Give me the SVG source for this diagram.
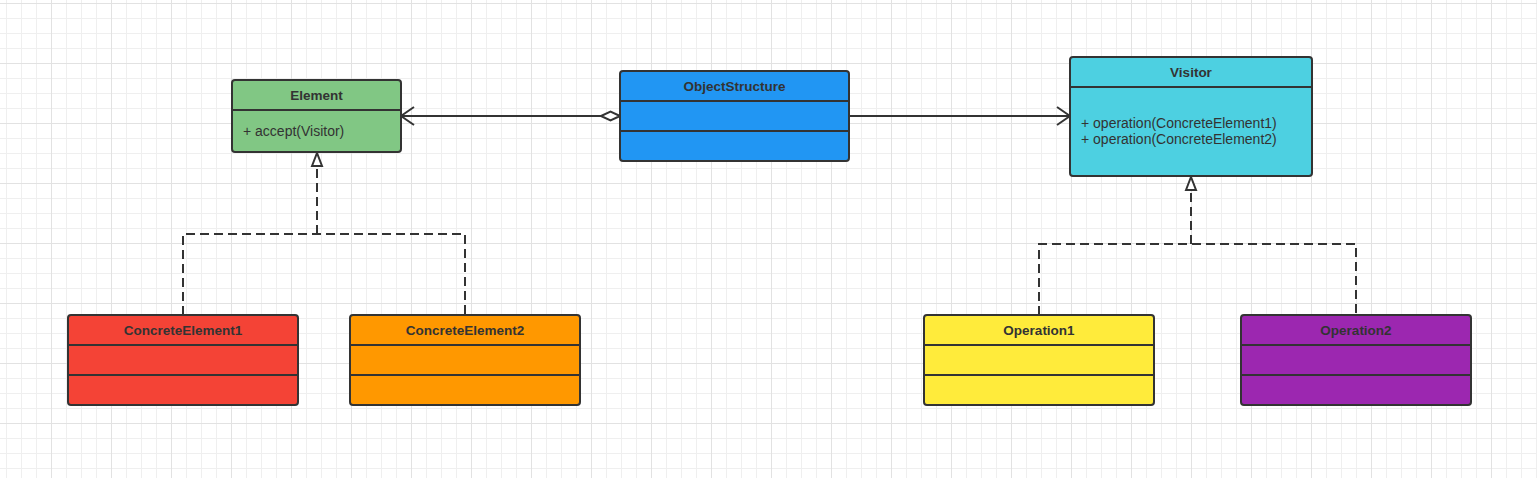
<svg xmlns="http://www.w3.org/2000/svg" width="1537" height="478" viewBox="0 0 1537 478">
<style>
.box{stroke:#333;stroke-width:2}
.div{stroke:#333;stroke-width:2}
.hd{font-family:"Liberation Sans",Arial,sans-serif;font-size:13.5px;font-weight:bold;fill:#333;text-anchor:middle}
.tx{font-family:"Liberation Sans",Arial,sans-serif;font-size:14px;fill:#333}
.ln{fill:none;stroke:#333;stroke-width:2}
.dash{fill:none;stroke:#333;stroke-width:2;stroke-dasharray:9,5}
</style>
<defs>
<pattern id="grid" x="51" y="3" width="60" height="60" patternUnits="userSpaceOnUse">
<rect x="0" y="0" width="60" height="60" fill="#fff"/>
<g fill="#efefef">
<rect x="15" y="0" width="1" height="60"/><rect x="30" y="0" width="1" height="60"/><rect x="45" y="0" width="1" height="60"/>
<rect x="0" y="15" width="60" height="1"/><rect x="0" y="30" width="60" height="1"/><rect x="0" y="45" width="60" height="1"/>
</g>
<g fill="#e2e2e2">
<rect x="0" y="0" width="1" height="60"/><rect x="0" y="0" width="60" height="1"/>
</g>
</pattern>
<marker id="open" markerUnits="userSpaceOnUse" viewBox="0 0 16 22" refX="15" refY="11" markerWidth="16" markerHeight="22" orient="auto">
<path d="M2,2 L15,11 L2,20" fill="none" stroke="#333" stroke-width="2"/>
</marker>
<marker id="diamond" markerUnits="userSpaceOnUse" viewBox="-1 -1 22 12" refX="0" refY="5" markerWidth="22" markerHeight="12" orient="auto">
<path d="M0,5 L9.5,0.7 L19,5 L9.5,9.3 Z" fill="#fff" stroke="#333" stroke-width="2"/>
</marker>
<marker id="tri" markerUnits="userSpaceOnUse" viewBox="-1 -8 16 16" refX="14" refY="0" markerWidth="16" markerHeight="16" orient="auto">
<path d="M1,-5 L14,0 L1,5 Z" fill="#fff" stroke="#333" stroke-width="2" stroke-dasharray="none"/>
</marker>
</defs>
<rect x="0" y="0" width="1537" height="478" fill="url(#grid)"/>

<g id="connectors">
<path class="ln" d="M620,116 L401,116" marker-start="url(#diamond)" marker-end="url(#open)"/>
<path class="ln" d="M850,116 L1070,116" marker-end="url(#open)"/>
<path class="dash" d="M183,315 L183,234 L465,234 L465,315"/>
<path class="dash" d="M317,234 L317,153" marker-end="url(#tri)"/>
<path class="dash" d="M1039,315 L1039,244 L1356,244 L1356,315"/>
<path class="dash" d="M1191,244 L1191,177" marker-end="url(#tri)"/>
</g>

<g id="Element">
<rect class="box" x="232" y="80" width="169" height="72" rx="3" fill="#81c784"/>
<line class="div" x1="232" y1="110" x2="401" y2="110"/>
<text class="hd" x="316.5" y="100">Element</text>
<text class="tx" x="243" y="136">+ accept(Visitor)</text>
</g>

<g id="ObjectStructure">
<rect class="box" x="620" y="71" width="229" height="90" rx="3" fill="#2196f3"/>
<line class="div" x1="620" y1="101" x2="849" y2="101"/>
<line class="div" x1="620" y1="131" x2="849" y2="131"/>
<text class="hd" x="734.5" y="91">ObjectStructure</text>
</g>

<g id="Visitor">
<rect class="box" x="1070" y="57" width="242" height="119" rx="3" fill="#4dd0e1"/>
<line class="div" x1="1070" y1="87" x2="1312" y2="87"/>
<text class="hd" x="1191" y="77">Visitor</text>
<text class="tx" x="1081" y="128">+ operation(ConcreteElement1)</text>
<text class="tx" x="1081" y="144">+ operation(ConcreteElement2)</text>
</g>

<g id="ConcreteElement1">
<rect class="box" x="68" y="315" width="230" height="90" rx="3" fill="#f44336"/>
<line class="div" x1="68" y1="345" x2="298" y2="345"/>
<line class="div" x1="68" y1="375" x2="298" y2="375"/>
<text class="hd" x="183" y="335">ConcreteElement1</text>
</g>

<g id="ConcreteElement2">
<rect class="box" x="350" y="315" width="230" height="90" rx="3" fill="#ff9800"/>
<line class="div" x1="350" y1="345" x2="580" y2="345"/>
<line class="div" x1="350" y1="375" x2="580" y2="375"/>
<text class="hd" x="465" y="335">ConcreteElement2</text>
</g>

<g id="Operation1">
<rect class="box" x="924" y="315" width="230" height="90" rx="3" fill="#ffeb3b"/>
<line class="div" x1="924" y1="345" x2="1154" y2="345"/>
<line class="div" x1="924" y1="375" x2="1154" y2="375"/>
<text class="hd" x="1039" y="335">Operation1</text>
</g>

<g id="Operation2">
<rect class="box" x="1241" y="315" width="230" height="90" rx="3" fill="#9c27b0"/>
<line class="div" x1="1241" y1="345" x2="1471" y2="345"/>
<line class="div" x1="1241" y1="375" x2="1471" y2="375"/>
<text class="hd" x="1356" y="335">Operation2</text>
</g>
</svg>
